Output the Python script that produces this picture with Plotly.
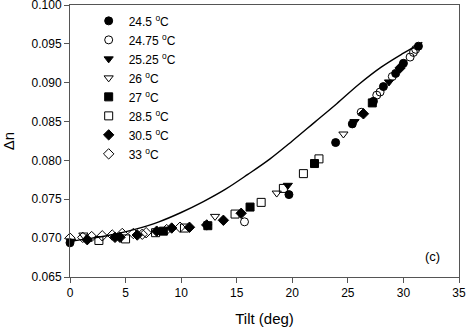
import plotly.graph_objects as go

# measured data, Tilt (deg) vs birefringence
tilt_245 = [0.0, 19.7, 23.9, 25.4, 27.3, 28.2, 29.3, 30.0, 31.35]
dn_245 = [0.0694, 0.0756, 0.0823, 0.0847, 0.0876, 0.0895, 0.0912, 0.0925, 0.0947]

tilt_2475 = [15.7, 26.2, 27.6, 27.9, 29.0, 30.6, 30.9, 31.1]
dn_2475 = [0.0721, 0.0862, 0.0884, 0.0888, 0.0908, 0.0933, 0.0939, 0.0943]

tilt_2525 = [0.1, 19.6, 25.6, 28.7]
dn_2525 = [0.0696, 0.0768, 0.0850, 0.0901]

tilt_26 = [1.2, 13.05, 18.6, 24.6]
dn_26 = [0.0704, 0.0728, 0.0758, 0.0834]

tilt_27 = [8.4, 12.4, 16.2, 22.0, 27.2]
dn_27 = [0.0709, 0.0716, 0.0740, 0.0796, 0.0874]

tilt_285 = [2.6, 5.0, 7.7, 10.3, 14.85, 17.2, 19.2, 21.0, 22.4]
dn_285 = [0.0697, 0.0699, 0.0707, 0.0713, 0.0731, 0.0746, 0.0764, 0.0783, 0.0802]

tilt_305 = [1.55, 4.05, 4.5, 6.05, 7.8, 9.15, 10.75, 12.3, 13.8, 15.4, 26.4, 29.7]
dn_305 = [0.0698, 0.0701, 0.0701, 0.0704, 0.0709, 0.0713, 0.0714, 0.0717, 0.0723, 0.0732, 0.0860, 0.0919]

tilt_33 = [0.0, 1.15, 1.95, 2.9, 3.8, 4.7, 5.7, 6.5, 6.85, 8.7, 9.9]
dn_33 = [0.0700, 0.0701, 0.0702, 0.0703, 0.0704, 0.0706, 0.0706, 0.0705, 0.0707, 0.0711, 0.0714]

# model curve
tilt_model = [0, 2, 4, 6, 8, 10, 12, 14, 16, 18, 20, 22, 24, 26, 28, 30, 31.7]
dn_model = [0.0696, 0.0700, 0.0705, 0.0712, 0.0721, 0.0733, 0.0747, 0.0763, 0.0782,
            0.0802, 0.0825, 0.0849, 0.0873, 0.0898, 0.0920, 0.0938, 0.0952]

series = [
    ("24.5 <sup>o</sup>C", tilt_245, dn_245, "circle"),
    ("24.75 <sup>o</sup>C", tilt_2475, dn_2475, "circle-open"),
    ("25.25 <sup>o</sup>C", tilt_2525, dn_2525, "triangle-down"),
    ("26 <sup>o</sup>C", tilt_26, dn_26, "triangle-down-open"),
    ("27 <sup>o</sup>C", tilt_27, dn_27, "square"),
    ("28.5 <sup>o</sup>C", tilt_285, dn_285, "square-open"),
    ("30.5 <sup>o</sup>C", tilt_305, dn_305, "diamond"),
    ("33 <sup>o</sup>C", tilt_33, dn_33, "diamond-open"),
]

fig = go.Figure()

fig.add_trace(go.Scatter(
    x=tilt_model, y=dn_model, mode='lines',
    line=dict(color='black', width=1.4, shape='spline'),
    showlegend=False
))

for name, xs, ys, sym in series:
    fig.add_trace(go.Scatter(
        x=xs, y=ys, mode='markers', name=name, cliponaxis=False,
        marker=dict(symbol=sym, size=8, color='black',
                    line=dict(color='black', width=1))
    ))

fig.add_annotation(x=32.6, y=0.0676, text="(c)", showarrow=False,
                   font=dict(size=13, color='black'))

axis_style = dict(
    showline=True, linecolor='#555', linewidth=1, mirror=True,
    ticks='outside', ticklen=5, tickcolor='#555',
    showgrid=False, zeroline=False, automargin=False,
    ticklabeloverflow='allow',
    tickfont=dict(size=12, color='black'),
)

fig.update_layout(
    width=467, height=334,
    margin=dict(l=70, r=8, t=5, b=57),
    plot_bgcolor='white', paper_bgcolor='white',
    font=dict(family='Liberation Sans, Arial', size=12.5, color='black'),
    xaxis=dict(range=[0, 35], dtick=5, title=dict(text='Tilt (deg)', standoff=14), **axis_style),
    yaxis=dict(range=[0.065, 0.100], dtick=0.005, tickformat='.3f',
               title=dict(text='Δn', standoff=17), **axis_style),
    legend=dict(x=0.048, y=0.995, xanchor='left', yanchor='top',
                bgcolor='rgba(0,0,0,0)', font=dict(size=12), tracegroupgap=0),
)

# page body has a default 8px margin; drop it so the figure sits at the window origin
fig.write_html("out.html", config={'displayModeBar': False},
               post_script="document.body.style.margin='0';")
